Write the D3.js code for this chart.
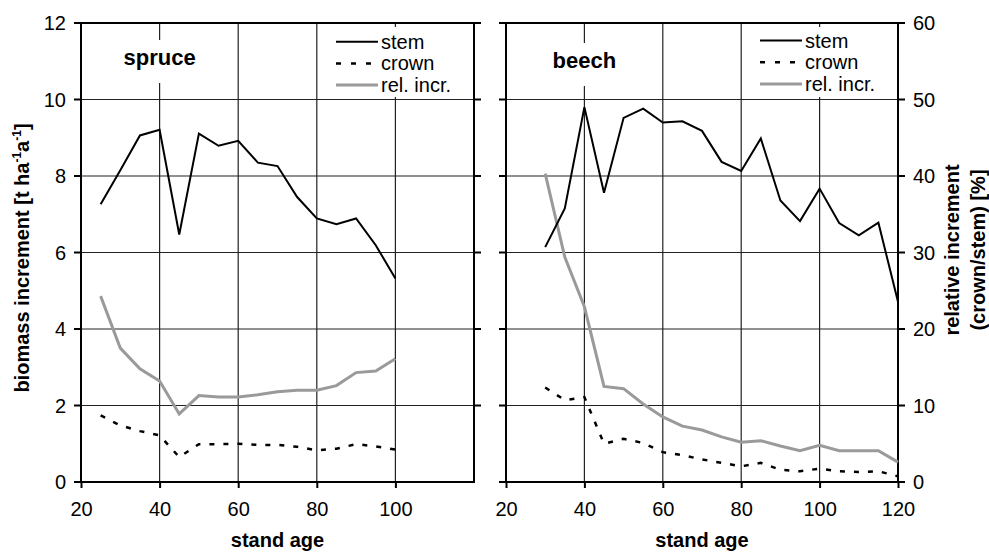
<!DOCTYPE html>
<html>
<head>
<meta charset="utf-8">
<script src="https://cdn.jsdelivr.net/npm/d3@7"></script>
<style>
  body { margin: 0; background: #fff; }
  svg text { font-family: "Liberation Sans", Arial, sans-serif; fill: #000; }
</style>
</head>
<body>
<div id="plot"></div>
<script>
const WIDTH = 989;
const HEIGHT = 554;
const TOP = 23, BOTTOM = 482;

// spruce (left panel)
const spruceAge = [25, 30, 35, 40, 45, 50, 55, 60, 65, 70, 75, 80, 85, 90, 95, 100];
const spruceStem = [7.26, 8.15, 9.06, 9.21, 6.47, 9.11, 8.79, 8.92, 8.35, 8.26, 7.45, 6.89, 6.74, 6.89, 6.19, 5.32];
const spruceCrown = [1.74, 1.48, 1.33, 1.22, 0.65, 0.99, 0.99, 1.0, 0.97, 0.97, 0.92, 0.83, 0.87, 0.99, 0.93, 0.85];
const spruceRel = [24.3, 17.5, 14.8, 13.2, 8.9, 11.3, 11.1, 11.1, 11.4, 11.8, 12.0, 12.0, 12.6, 14.3, 14.5, 16.1];

// beech (right panel)
const beechAge = [30, 35, 40, 45, 50, 55, 60, 65, 70, 75, 80, 85, 90, 95, 100, 105, 110, 115, 120];
const beechStem = [6.14, 7.15, 9.80, 7.56, 9.52, 9.76, 9.40, 9.43, 9.18, 8.37, 8.13, 8.98, 7.36, 6.82, 7.67, 6.77, 6.45, 6.78, 4.71];
const beechCrown = [2.47, 2.14, 2.22, 1.0, 1.13, 1.02, 0.78, 0.70, 0.59, 0.50, 0.41, 0.50, 0.32, 0.28, 0.35, 0.28, 0.26, 0.28, 0.15];
const beechRel = [40.3, 29.4, 22.9, 12.5, 12.2, 10.2, 8.5, 7.3, 6.8, 5.9, 5.2, 5.4, 4.7, 4.1, 4.8, 4.1, 4.1, 4.1, 2.6];

const xTicks = [20, 40, 60, 80, 100, 120];
const yTicks = [0, 2, 4, 6, 8, 10, 12];
const relTicks = [0, 10, 20, 30, 40, 50, 60];
const legendLabels = ["stem", "crown", "rel. incr."];

const svg = d3.select("#plot").append("svg")
    .attr("width", WIDTH)
    .attr("height", HEIGHT);

const Y_SCALE = d3.scaleLinear().domain([0, 12]).range([BOTTOM, TOP]);
const REL_SCALE = d3.scaleLinear().domain([0, 60]).range([BOTTOM, TOP]);

function drawPanel(p) {
    const x = d3.scaleLinear().domain([20, 120]).range([p.left, p.right]);
    const g = svg.append("g");

    // grid
    g.selectAll(".hgrid")
        .data(yTicks.filter(d => d > 0 && d < 12))
        .enter().append("line")
            .attr("x1", p.left).attr("x2", p.right)
            .attr("y1", d => Y_SCALE(d)).attr("y2", d => Y_SCALE(d))
            .attr("stroke", "#222").attr("stroke-width", 1.2);
    g.selectAll(".vgrid")
        .data(xTicks.filter(d => d > 20 && d < 120))
        .enter().append("line")
            .attr("x1", d => x(d)).attr("x2", d => x(d))
            .attr("y1", TOP).attr("y2", BOTTOM)
            .attr("stroke", "#222").attr("stroke-width", 1.2);

    // frame
    g.append("rect")
        .attr("x", p.left).attr("y", TOP)
        .attr("width", p.right - p.left).attr("height", BOTTOM - TOP)
        .attr("fill", "none").attr("stroke", "#000").attr("stroke-width", 2);

    // outside tick marks
    g.selectAll(".lt")
        .data(yTicks)
        .enter().append("line")
            .attr("x1", p.left - 7).attr("x2", p.left)
            .attr("y1", d => Y_SCALE(d)).attr("y2", d => Y_SCALE(d))
            .attr("stroke", "#000").attr("stroke-width", 2);
    g.selectAll(".rt")
        .data(p.rightTicks)
        .enter().append("line")
            .attr("x1", p.right).attr("x2", p.right + 7)
            .attr("y1", d => Y_SCALE(d)).attr("y2", d => Y_SCALE(d))
            .attr("stroke", "#000").attr("stroke-width", 2);

    // x axis
    const xAxis = g.append("g")
        .attr("transform", "translate(0," + BOTTOM + ")")
        .call(d3.axisBottom(x).tickValues(p.xLabels).tickSize(6).tickPadding(14).tickFormat(d3.format("d")));
    xAxis.select(".domain").remove();
    xAxis.selectAll("line").attr("stroke-width", 2);
    xAxis.selectAll("text").attr("font-size", 20).attr("font-family", "Liberation Sans, Arial, sans-serif");

    // panel label
    g.append("rect")
        .attr("x", x(40) - 40).attr("y", p.labelY - 25)
        .attr("width", 80).attr("height", 43)
        .attr("fill", "#fff");
    g.append("text")
        .attr("x", x(40)).attr("y", p.labelY)
        .attr("text-anchor", "middle")
        .attr("font-size", 22).attr("font-weight", "bold")
        .text(p.name);

    // series
    const lineStem = d3.line().x((d, i) => x(p.age[i])).y(d => Y_SCALE(d));
    const lineRel = d3.line().x((d, i) => x(p.age[i])).y(d => REL_SCALE(d));

    g.append("path").datum(p.rel)
        .attr("d", lineRel)
        .attr("fill", "none").attr("stroke", "#9a9a9a").attr("stroke-width", 3);
    g.append("path").datum(p.crown)
        .attr("d", lineStem)
        .attr("fill", "none").attr("stroke", "#000").attr("stroke-width", 2.5)
        .attr("stroke-dasharray", "5,9");
    g.append("path").datum(p.stem)
        .attr("d", lineStem)
        .attr("fill", "none").attr("stroke", "#000").attr("stroke-width", 2);

    // legend
    const lx = p.right - 138;
    g.append("rect")
        .attr("x", lx - 4).attr("y", TOP + 4)
        .attr("width", 136).attr("height", 70)
        .attr("fill", "#fff");
    const styles = [
        {stroke: "#000", width: 2, dash: null},
        {stroke: "#000", width: 2.5, dash: "5,10"},
        {stroke: "#9a9a9a", width: 3, dash: null}
    ];
    legendLabels.forEach((lab, i) => {
        const ly = p.legendY + i * 21.7;
        g.append("line")
            .attr("x1", lx).attr("x2", lx + 42)
            .attr("y1", ly).attr("y2", ly)
            .attr("stroke", styles[i].stroke)
            .attr("stroke-width", styles[i].width)
            .attr("stroke-dasharray", styles[i].dash);
        g.append("text")
            .attr("x", lx + 45).attr("y", ly + 7)
            .attr("font-size", 20)
            .text(lab);
    });

    // x title
    g.append("text")
        .attr("x", (p.left + p.right) / 2).attr("y", 547)
        .attr("text-anchor", "middle")
        .attr("font-size", 20).attr("font-weight", "bold")
        .text("stand age");

    return x;
}

drawPanel({
    name: "spruce", left: 81, right: 474, labelY: 65, legendY: 41.7,
    age: spruceAge, stem: spruceStem, crown: spruceCrown, rel: spruceRel,
    xLabels: xTicks.slice(0, 5), rightTicks: yTicks.slice(1)
});
drawPanel({
    name: "beech", left: 506, right: 898, labelY: 68, legendY: 40.5,
    age: beechAge, stem: beechStem, crown: beechCrown, rel: beechRel,
    xLabels: xTicks, rightTicks: yTicks
});

// left y labels
svg.selectAll(".ylab")
    .data(yTicks)
    .enter().append("text")
        .attr("x", 66).attr("y", d => Y_SCALE(d) + 7)
        .attr("text-anchor", "end")
        .attr("font-size", 20)
        .text(d => d);

// right y labels
svg.selectAll(".rlab")
    .data(relTicks)
    .enter().append("text")
        .attr("x", 913).attr("y", d => REL_SCALE(d) + 7)
        .attr("font-size", 20)
        .text(d => d);

// left y title
const yt = svg.append("text")
    .attr("transform", "translate(29,258) rotate(-90)")
    .attr("text-anchor", "middle")
    .attr("font-size", 20).attr("font-weight", "bold");
yt.append("tspan").text("biomass increment [t ha");
yt.append("tspan").attr("dy", -8).attr("font-size", 12).text("-1");
yt.append("tspan").attr("dy", 8).text("a");
yt.append("tspan").attr("dy", -8).attr("font-size", 12).text("-1");
yt.append("tspan").attr("dy", 8).text("]");

// right y title
svg.append("text")
    .attr("transform", "translate(959,250) rotate(-90)")
    .attr("text-anchor", "middle")
    .attr("font-size", 20).attr("font-weight", "bold")
    .text("relative increment");
svg.append("text")
    .attr("transform", "translate(985,250) rotate(-90)")
    .attr("text-anchor", "middle")
    .attr("font-size", 20).attr("font-weight", "bold")
    .text("(crown/stem) [%]");
</script>
</body>
</html>
